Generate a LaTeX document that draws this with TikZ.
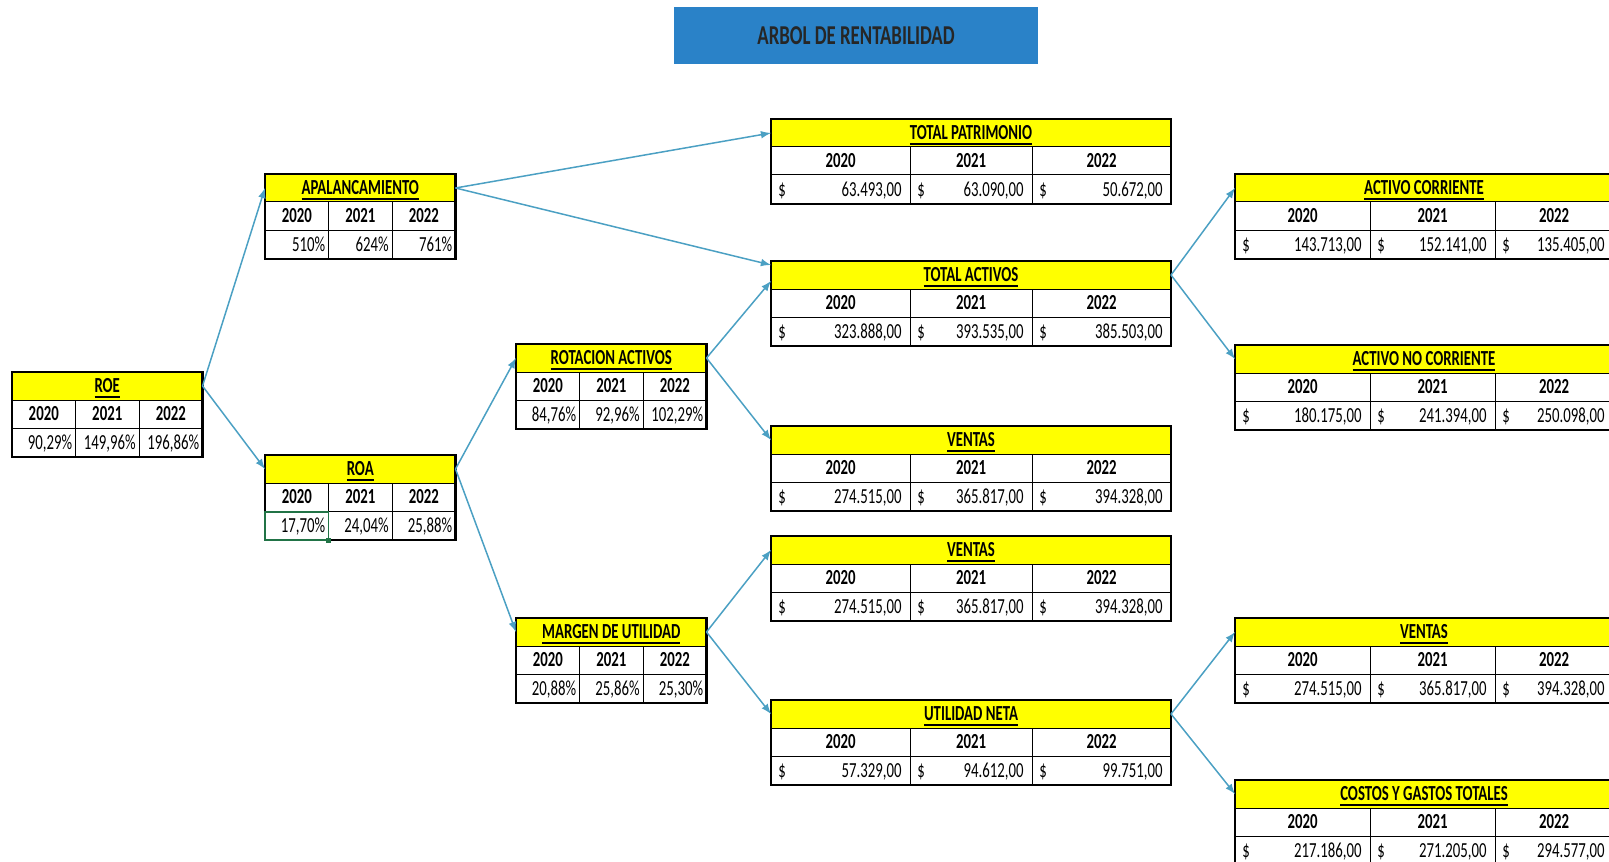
\documentclass[tikz,border=0pt]{standalone}
\usepackage{fontspec}
\setmainfont{Carlito}
\usepackage{graphicx}

\definecolor{amarillo}{RGB}{255,255,0}
\definecolor{azul}{RGB}{42,130,200}
\definecolor{flecha}{RGB}{75,160,195}
\definecolor{verde}{RGB}{33,115,70}

% texto un poco mas alto (como en la hoja de calculo)
\newcommand{\alto}[1]{\scalebox{1}[1.45]{#1}}

% tabla de porcentajes: nombre, posicion, titulo, 2020, 2021, 2022
\newcommand{\tablap}[6]{%
  \begin{scope}[shift={(#2)}]
    \node (#1-h) [cab, minimum width = 95.25pt] at (0,0) {\alto{\underline{#3}}};
    \draw [linea] (0,28) -- (190.5,28) (0,56) -- (190.5,56)
      (63.5,28) -- (63.5,85) (127,28) -- (127,85);
    \node (#1-a1) [anio] at (31.75,42) {\alto{2020}};
    \node (#1-a2) [anio] at (95.25,42) {\alto{2021}};
    \node (#1-a3) [anio] at (158.75,42) {\alto{2022}};
    \node (#1-v1) [valor] at (60.5,70.5) {\alto{#4}};
    \node (#1-v2) [valor] at (124,70.5) {\alto{#5}};
    \node (#1-v3) [valor] at (187.5,70.5) {\alto{#6}};
    \draw [borde] (0,0) rectangle (190.5,85);
  \end{scope}}

% tabla en pesos: nombre, posicion, anchos de columna, titulo, 2020, 2021, 2022
\newcommand{\tablad}[9]{%
  \begin{scope}[shift={(#2)}]
    \pgfmathsetmacro{\ancho}{#3+#4+#5}
    \pgfmathsetlengthmacro{\anchoL}{\ancho*0.5pt}
    \node (#1-h) [cab, minimum width = \anchoL] at (0,0) {\alto{\underline{#6}}};
    \draw [linea] (0,28) -- (\ancho,28) (0,56) -- (\ancho,56)
      (#3,28) -- (#3,85) (#3+#4,28) -- (#3+#4,85);
    \node (#1-a1) [anio] at (#3/2,42) {\alto{2020}};
    \node (#1-a2) [anio] at (#3+#4/2,42) {\alto{2021}};
    \node (#1-a3) [anio] at (#3+#4+#5/2,42) {\alto{2022}};
    \node (#1-s1) [valor, anchor = west] at (7,70.5) {\alto{\$}};
    \node (#1-s2) [valor, anchor = west] at (#3+7,70.5) {\alto{\$}};
    \node (#1-s3) [valor, anchor = west] at (#3+#4+7,70.5) {\alto{\$}};
    \node (#1-v1) [valor] at (#3-8,70.5) {\alto{#7}};
    \node (#1-v2) [valor] at (#3+#4-8,70.5) {\alto{#8}};
    \node (#1-v3) [valor] at (\ancho-8,70.5) {\alto{#9}};
    \draw [borde] (0,0) rectangle (\ancho,85);
  \end{scope}}

\begin{document}
\begin{tikzpicture}[
    , x = 0.5pt
    , y = -0.5pt
    , cab/.style = {
      , fill = amarillo
      , inner sep = 0pt
      , outer sep = 0pt
      , minimum height = 14pt
      , anchor = north west
      , font = \fontsize{7.4}{8}\selectfont\bfseries
      , text height = 6.8pt
      , text depth = 0pt
    }
    , anio/.style = {
      , inner sep = 0pt
      , font = \fontsize{7.4}{8}\selectfont\bfseries
      , text height = 6.8pt
      , text depth = 0pt
    }
    , valor/.style = {
      , inner sep = 0pt
      , anchor = east
      , font = \fontsize{7.4}{8}\selectfont
      , text height = 6.8pt
      , text depth = 0pt
    }
    , linea/.style = {line width = 0.5pt}
    , borde/.style = {line width = 1.3pt}
    , titulo/.style = {
      , fill = azul
      , minimum width = 182pt
      , minimum height = 28.5pt
      , text = black!85
      , font = \fontsize{9.4}{10}\selectfont\bfseries
    }
    , flecha/.style = {draw = flecha, line width = 0.75pt, -latex}
  ]
    \useasboundingbox (0,0) rectangle (1609,861);

    \node (titulo) [titulo] at (856,35.5) {\alto{ARBOL DE RENTABILIDAD}};

    \tablap{roe}{12,372}{ROE}{90,29\%}{149,96\%}{196,86\%}
    \tablap{apal}{265,174}{APALANCAMIENTO}{510\%}{624\%}{761\%}
    \tablap{roa}{265,455}{ROA}{17,70\%}{24,04\%}{25,88\%}
    \tablap{rot}{516,344}{ROTACION ACTIVOS}{84,76\%}{92,96\%}{102,29\%}
    \tablap{marg}{516,618}{MARGEN DE UTILIDAD}{20,88\%}{25,86\%}{25,30\%}

    \tablad{tp}{771,119}{139}{122}{139}{TOTAL PATRIMONIO}{63.493,00}{63.090,00}{50.672,00}
    \tablad{ta}{771,261}{139}{122}{139}{TOTAL ACTIVOS}{323.888,00}{393.535,00}{385.503,00}
    \tablad{ven1}{771,426}{139}{122}{139}{VENTAS}{274.515,00}{365.817,00}{394.328,00}
    \tablad{ven2}{771,536}{139}{122}{139}{VENTAS}{274.515,00}{365.817,00}{394.328,00}
    \tablad{un}{771,700}{139}{122}{139}{UTILIDAD NETA}{57.329,00}{94.612,00}{99.751,00}

    \tablad{ac}{1235,174}{135}{125}{118}{ACTIVO CORRIENTE}{143.713,00}{152.141,00}{135.405,00}
    \tablad{anc}{1235,345}{135}{125}{118}{ACTIVO NO CORRIENTE}{180.175,00}{241.394,00}{250.098,00}
    \tablad{ven3}{1235,618}{135}{125}{118}{VENTAS}{274.515,00}{365.817,00}{394.328,00}
    \tablad{cgt}{1235,780}{135}{125}{118}{COSTOS Y GASTOS TOTALES}{217.186,00}{271.205,00}{294.577,00}

    % celda seleccionada
    \draw [verde, line width = 0.9pt] (265,512) rectangle (328.5,540);
    \fill [verde] (326,537.5) rectangle (331,542.5);

    \draw [flecha] (roe-h.east) -- (apal-h.west);
    \draw [flecha] (roe-h.east) -- (roa-h.west);
    \draw [flecha] (apal-h.east) -- (tp-h.west);
    \draw [flecha] (apal-h.east) -- ([yshift=5pt]ta-h.west);
    \draw [flecha] (roa-h.east) -- (rot-h.west);
    \draw [flecha] (roa-h.east) -- (marg-h.west);
    \draw [flecha] (rot-h.east) -- ([yshift=-3pt]ta-h.west);
    \draw [flecha] (rot-h.east) -- (ven1-h.west);
    \draw [flecha] (marg-h.east) -- (ven2-h.west);
    \draw [flecha] (marg-h.east) -- (un-h.west);
    \draw [flecha] (ta-h.east) -- (ac-h.west);
    \draw [flecha] (ta-h.east) -- (anc-h.west);
    \draw [flecha] (un-h.east) -- (ven3-h.west);
    \draw [flecha] (un-h.east) -- (cgt-h.west);
  \end{tikzpicture}
\end{document}
